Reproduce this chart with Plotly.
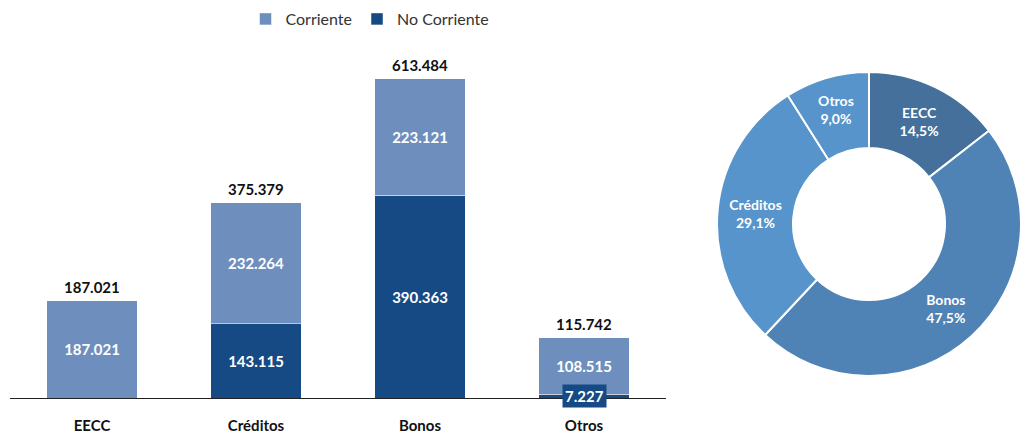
import plotly.graph_objects as go

# Data (values in units; displayed with "." as thousands separator)
categories = ["EECC", "Créditos", "Bonos", "Otros"]
corriente = [187021, 232264, 223121, 108515]
no_corriente = [0, 143115, 390363, 7227]
totals = [c + n for c, n in zip(corriente, no_corriente)]

pie_labels = ["EECC", "Bonos", "Créditos", "Otros"]
pie_values = [totals[categories.index(lbl)] for lbl in pie_labels]

C_CORR = "#6e8fbd"
C_NOCORR = "#154a85"
PIE_COLORS = ["#44709b", "#4f83b5", "#5794cb", "#5794cb"]
FONT = "Lato"

W, H = 1021, 434


def fmt(v):
    return f"{v:,}".replace(",", ".")


fig = go.Figure()

# Stacked bars: No Corriente at the base, Corriente on top
fig.add_trace(go.Bar(
    x=categories, y=no_corriente, name="No Corriente",
    marker=dict(color=C_NOCORR, line=dict(color="#ffffff", width=0.5)),
    text=[f"<b>{fmt(v)}</b>" if v > 50000 else "" for v in no_corriente],
    textposition="inside", insidetextanchor="middle",
    textfont=dict(color="white", size=15, family=FONT),
    width=0.55, xaxis="x", yaxis="y", legendrank=2,
))
fig.add_trace(go.Bar(
    x=categories, y=corriente, name="Corriente",
    marker=dict(color=C_CORR, line=dict(color="#ffffff", width=0.5)),
    text=[f"<b>{fmt(v)}</b>" for v in corriente],
    textposition="inside", insidetextanchor="middle",
    textfont=dict(color="white", size=15, family=FONT),
    width=0.55, xaxis="x", yaxis="y", legendrank=1,
))

annotations = []
# Totals above each stack
for cat, tot in zip(categories, totals):
    annotations.append(dict(
        x=cat, y=tot, xref="x", yref="y", text=f"<b>{fmt(tot)}</b>",
        showarrow=False, yanchor="bottom", yshift=3,
        font=dict(size=15, color="#111111", family=FONT),
    ))
# Small segment label drawn in a boxed tag
for cat, v in zip(categories, no_corriente):
    if 0 < v <= 50000:
        annotations.append(dict(
            x=cat, y=v / 2, xref="x", yref="y", text=f"<b>{fmt(v)}</b>",
            showarrow=False, yanchor="middle",
            bgcolor=C_NOCORR, borderpad=2,
            font=dict(size=15, color="white", family=FONT),
        ))

# Donut of totals by category
fig.add_trace(go.Pie(
    labels=pie_labels, values=pie_values, hole=0.5,
    sort=False, direction="clockwise", rotation=0,
    marker=dict(colors=PIE_COLORS, line=dict(color="white", width=2)),
    texttemplate="<b>%{label}</b><br><b>%{percent:.1%}</b>",
    textposition="inside", insidetextorientation="horizontal",
    textfont=dict(color="white", size=14, family=FONT),
    domain=dict(x=[717 / W, 1.0], y=[1 - 376 / H, 1 - 72 / H]),
    showlegend=False,
))

fig.update_layout(
    width=W, height=H,
    margin=dict(l=0, r=0, t=0, b=0),
    paper_bgcolor="white", plot_bgcolor="white",
    separators=",.",
    barmode="stack", bargap=0.45,
    font=dict(family=FONT, color="#111111"),
    xaxis=dict(
        domain=[10 / W, 666 / W], showline=True, linecolor="#222222", linewidth=1,
        ticks="", showgrid=False, zeroline=False,
        tickfont=dict(size=15, color="#111111", family=FONT),
        ticklabelstandoff=14,
    ),
    yaxis=dict(
        domain=[1 - 398 / H, 1 - 34 / H], range=[0, 700000],
        visible=False, showgrid=False, zeroline=False,
    ),
    legend=dict(
        orientation="h", x=370 / W, xanchor="center", y=1 - 19 / H, yanchor="middle",
        font=dict(size=16, color="#333333", family=FONT),
        traceorder="normal", itemwidth=30,
    ),
    annotations=annotations,
)

# Bold category labels
fig.update_xaxes(tickvals=categories, ticktext=[f"<b>{c}</b>" for c in categories])

fig.write_html("out.html")
